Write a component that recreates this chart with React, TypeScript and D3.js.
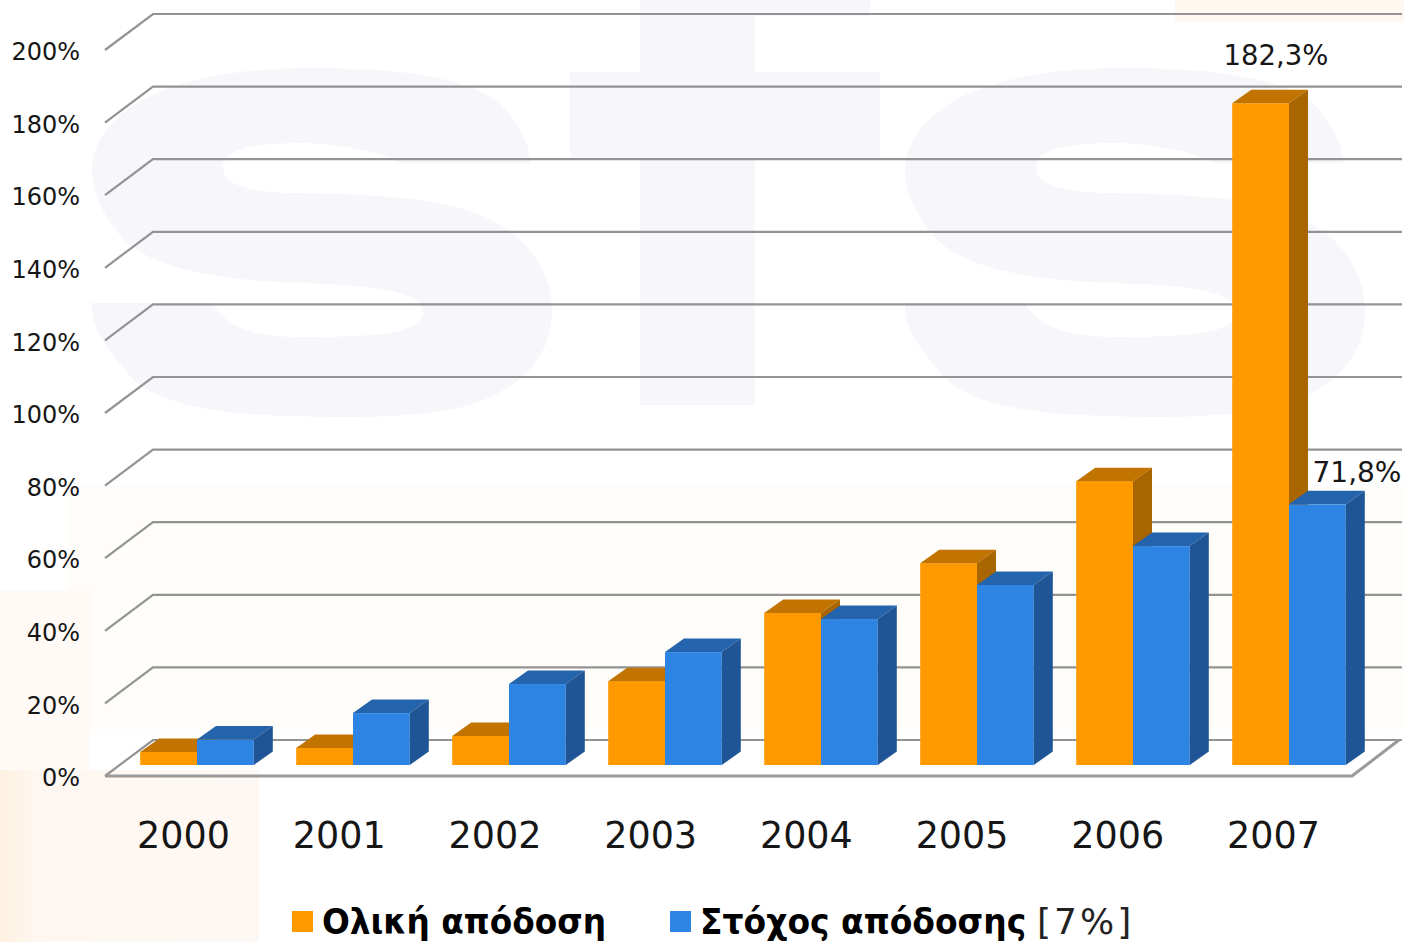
import React from "react";
import * as d3 from "d3";

const years = ["2000", "2001", "2002", "2003", "2004", "2005", "2006", "2007"];
const totalReturn = [3.6, 4.7, 8.0, 23.1, 41.9, 55.6, 78.2, 182.3];
const targetReturn = [7.0, 14.3, 22.3, 31.1, 40.2, 49.6, 60.3, 71.8];
const axisTicks = [0, 20, 40, 60, 80, 100, 120, 140, 160, 180, 200];
const seriesNames = ["Ολική απόδοση", "Στόχος απόδοσης"];
const legendNote = "[7%]";
const FONT = "'DejaVu Sans', sans-serif";

const y = d3.scaleLinear().domain([0, 200]).range([765, 39]);
const x = d3.scaleBand().domain(years).range([106.2, 1354.2]).paddingInner(0).paddingOuter(0);
const xLabel = d3.scalePoint().domain(years).range([183.5, 1273.5]);
const barW = 56.8;
const depthX = 19;
const depthY = 13.5;

const S_SHAPE =
  "M530,163 L400,163 C380,150 330,143 300,143 C250,143 223,150 223,168 C223,185 250,193 300,193 C400,195 460,200 500,225 C535,245 552,280 552,310 C552,350 530,385 470,405 C420,418 350,418 300,416 C220,415 150,405 125,370 C105,345 92,330 92,303 L212,303 C225,325 250,337 300,337 C370,337 423,335 423,312 C423,290 370,285 300,283 C220,280 150,270 120,235 C100,210 92,190 92,170 C95,110 170,68 310,68 C430,68 490,85 510,115 C525,135 530,150 530,163 Z";

function Bar({ left, value, front, top, side }: any) {
  const t = y(value);
  const b = y(0);
  const r = left + barW;
  return (
    <g>
      <rect x={left} y={t} width={barW} height={b - t} fill={front} />
      <polygon points={`${left},${t} ${left + depthX},${t - depthY} ${r + depthX},${t - depthY} ${r},${t}`} fill={top} />
      <polygon points={`${r},${t} ${r + depthX},${t - depthY} ${r + depthX},${b - depthY} ${r},${b}`} fill={side} />
    </g>
  );
}

export default function App() {
  return (
    <svg width={1404} height={942} style={{ position: "absolute", left: 0, top: 0 }}>
      <defs>
        <linearGradient id="edge" x1="0" x2="1" y1="0" y2="0">
          <stop offset="0" stopColor="#fdf1e0" />
          <stop offset="0.15" stopColor="#fef7f1" />
          <stop offset="1" stopColor="#fef8f4" />
        </linearGradient>
      </defs>
      <rect width={1404} height={942} fill="#ffffff" />
      <rect x={1175} y={0} width={229} height={22} fill="#fff8f0" />
      <rect x={67} y={485} width={1337} height={245} fill="#fffdfa" />
      <rect x={0} y={590} width={90} height={180} fill="#fffaf5" />
      <rect x={0} y={770} width={259} height={172} fill="url(#edge)" />
      <g fill="#f6f6fb">
        <path d={S_SHAPE} />
        <path d={S_SHAPE} transform="translate(813,0)" />
        <rect x={640} y={0} width={115} height={405} />
        <rect x={570} y={72} width={310} height={88} />
        <rect x={755} y={0} width={115} height={16} />
      </g>

      <g stroke="#939393" strokeWidth={2.2} fill="none">
        {axisTicks.map((v) => (
          <polyline key={v} points={`${105},${y(v) + 11} ${153},${y(v) - 25} ${1402},${y(v) - 25}`} />
        ))}
        <polyline strokeWidth={3} stroke="#9a9a9a" points={`${105},${y(0) + 11} ${1352},${y(0) + 11} ${1399},${y(0) - 25}`} />
      </g>

      {years.map((yr, i) => {
        const left = (x(yr) as number) + 34;
        return (
          <g key={yr}>
            <Bar left={left} value={totalReturn[i]} front="#ff9900" top="#c27400" side="#a86500" />
            <Bar left={left + barW} value={targetReturn[i]} front="#2e84e3" top="#2464ac" side="#1f5594" />
          </g>
        );
      })}

      <g fontFamily={FONT} fill="#161616">
        {axisTicks.map((v) => (
          <text key={v} x={80} y={y(v) + 12.5} dy="0.36em" textAnchor="end" fontSize={24}>
            {v}%
          </text>
        ))}
        {years.map((yr) => (
          <text key={yr} x={xLabel(yr)} y={848} textAnchor="middle" fontSize={36.5}>
            {yr}
          </text>
        ))}
        <text x={1276} y={65} textAnchor="middle" fontSize={27.5}>182,3%</text>
        <text x={1357} y={482} textAnchor="middle" fontSize={28}>71,8%</text>
      </g>

      <rect x={292} y={911} width={21} height={21} fill="#ff9900" />
      <text transform="translate(322,934) scale(0.91,1)" fontFamily={FONT} fontWeight={700} fontSize={36} fill="#000">{seriesNames[0]}</text>
      <rect x={670} y={911} width={21} height={21} fill="#2e84e3" />
      <text transform="translate(700,934) scale(0.915,1)" fontFamily={FONT} fontWeight={700} fontSize={36} fill="#000">{seriesNames[1]}</text>
      <text x={1037} y={934} fontFamily={FONT} fontSize={36} fill="#222" letterSpacing={3}>{legendNote}</text>
    </svg>
  );
}
